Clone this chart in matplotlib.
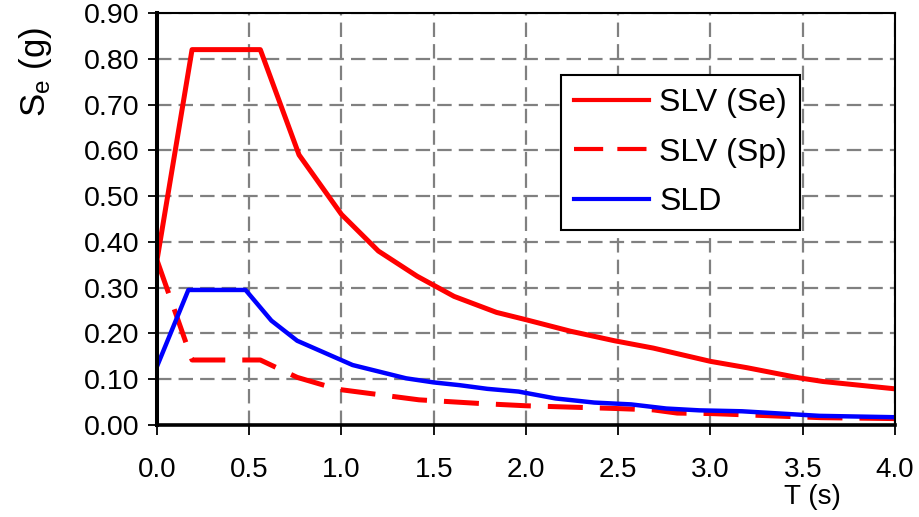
import matplotlib
matplotlib.use("Agg")
import matplotlib.pyplot as plt

# Elastic and design response spectra (ordinates in g)
T_se = [0.00, 0.19, 0.56, 0.77, 1.00, 1.20, 1.41, 1.61, 1.84, 2.00, 2.24, 2.48, 2.69, 3.00, 3.20, 3.48, 3.61, 4.00]
se_slv = [0.360, 0.820, 0.820, 0.590, 0.460, 0.380, 0.325, 0.281, 0.246, 0.230, 0.205, 0.184, 0.168, 0.139, 0.125, 0.103, 0.095, 0.079]

T_sp = [0.00, 0.19, 0.56, 0.76, 0.98, 1.19, 1.42, 1.75, 2.00, 2.49, 2.69, 2.82, 3.00, 3.60, 4.00]
sp_slv = [0.360, 0.142, 0.142, 0.104, 0.078, 0.067, 0.055, 0.047, 0.042, 0.036, 0.033, 0.026, 0.025, 0.016, 0.014]

T_sld = [0.00, 0.17, 0.48, 0.62, 0.76, 1.06, 1.35, 1.50, 1.64, 1.79, 1.96, 2.16, 2.37, 2.57, 2.76, 2.94, 3.17, 3.59, 4.00]
se_sld = [0.128, 0.295, 0.295, 0.228, 0.184, 0.131, 0.102, 0.093, 0.087, 0.079, 0.073, 0.058, 0.049, 0.045, 0.036, 0.032, 0.030, 0.020, 0.017]

x_ticks = [0.0, 0.5, 1.0, 1.5, 2.0, 2.5, 3.0, 3.5, 4.0]
y_ticks = [0.00, 0.10, 0.20, 0.30, 0.40, 0.50, 0.60, 0.70, 0.80, 0.90]

plt.rcParams["font.family"] = ["Liberation Sans", "DejaVu Sans"]
plt.rcParams["mathtext.default"] = "regular"
narrow = ["Liberation Sans Narrow", "Liberation Sans", "DejaVu Sans"]

fig = plt.figure(figsize=(9.2, 5.17), dpi=100)
ax = fig.add_axes([157 / 920, 1 - 425 / 517, (895 - 157) / 920, (425 - 13) / 517])

grid_style = dict(color="#808080", linewidth=1.6, linestyle=(0, (6.5, 3.2)), zorder=1)
for xv in x_ticks[1:]:
    ax.axvline(xv, **grid_style)
for yv in y_ticks[1:]:
    ax.axhline(yv, **grid_style)

ax.plot(T_se, se_slv, color="#ff0000", linewidth=3.6, solid_joinstyle="round", zorder=3, label="SLV (Se)")
ax.plot(T_sp, sp_slv, color="#ff0000", linewidth=3.6, linestyle=(0, (7.0, 3.4)), zorder=3, label="SLV (Sp)")
ax.plot(T_sld, se_sld, color="#0000ff", linewidth=3.2, solid_joinstyle="round", zorder=4, label="SLD")

ax.set_xlim(0, 4.0)
ax.set_ylim(0, 0.90)
ax.set_xticks(x_ticks)
ax.set_yticks(y_ticks)
ax.set_xticklabels([f"{v:.1f}" for v in x_ticks], family=narrow, fontsize=20)
ax.set_yticklabels([f"{v:.2f}" for v in y_ticks], fontsize=20.5)
ax.tick_params(axis="x", direction="out", length=7, width=1.3, pad=16, colors="black")
ax.tick_params(axis="y", direction="out", length=6.5, width=1.3, pad=6, colors="black")

for side, lw in (("left", 2.9), ("bottom", 2.6), ("top", 1.5), ("right", 1.5)):
    ax.spines[side].set_linewidth(lw)
    ax.spines[side].set_color("black")
    ax.spines[side].set_zorder(5)

leg = ax.legend(loc="upper right", bbox_to_anchor=(800 / 920, 1 - 75 / 517),
                bbox_transform=fig.transFigure, borderaxespad=0, fontsize=23,
                frameon=True, fancybox=False, edgecolor="black", framealpha=1,
                handlelength=2.35, handletextpad=0.32, labelspacing=0.62, borderpad=0.4)
leg.get_frame().set_linewidth(1.5)
for line in leg.get_lines():
    line.set_linewidth(3.0)

fig.text(35 / 920, 1 - 72 / 517, "S$_e$ (g)", rotation=90, ha="center", va="center", fontsize=25)
fig.text(812 / 920, 1 - 497 / 517, "T (s)", ha="center", va="center", fontsize=20, family=narrow)

fig.savefig("out.png", dpi=100, facecolor="white")
